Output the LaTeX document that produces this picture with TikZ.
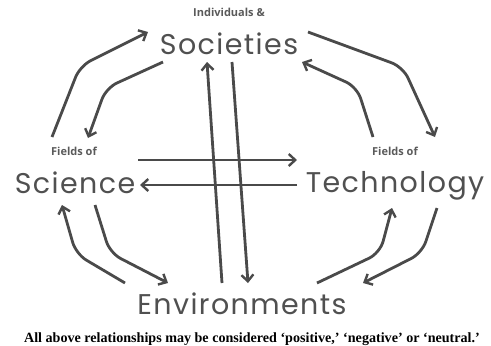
\documentclass[tikz,border=0pt]{standalone}
\usepackage{fontspec}
\setmainfont{Liberation Serif}
\newfontfamily\handfont[LetterSpace=5]{Poppins}
\newfontfamily\labelfont{Open Sans}
\usetikzlibrary{arrows.meta}
\definecolor{linegray}{HTML}{4A4A4A}
\definecolor{textgray}{HTML}{505050}
\definecolor{labelgray}{HTML}{5A5A5A}
\begin{document}
\begin{tikzpicture}[x=1pt,y=-1pt,
  flowarrow/.style={draw=linegray, line width=2.8pt, rounded corners=12pt,
    -{Straight Barb[length=6.5pt,width=12pt,line width=2.4pt]}},
  bigword/.style={anchor=base, text=textgray, inner sep=0pt, font=\handfont\fontsize{28.5}{30}\selectfont},
  fieldlabel/.style={anchor=base, text=labelgray, inner sep=0pt, font=\labelfont\bfseries\fontsize{11}{13}\selectfont},
  captiontext/.style={anchor=base, text=black, inner sep=0pt, font=\bfseries\fontsize{14.1}{16}\selectfont}
]
\useasboundingbox (0,0) rectangle (491,346);

% labels
\node[fieldlabel] (ind) at (229,16) {Individuals \&};
\node[bigword] (soc) at (229,54) {Societies};
\node[fieldlabel] (fsci) at (74,155) {Fields of};
\node[bigword] (sci) at (75,193) {Science};
\node[fieldlabel] (ftec) at (395,155) {Fields of};
\node[bigword] (tec) at (395,192) {Technology};
\node[bigword] (env) at (242,314) {Environments};
\node[captiontext] (cap) at (252,342) {All above relationships may be considered ‘positive,’ ‘negative’ or ‘neutral.’};

% connector end points
\coordinate (a1) at (52,137);  \coordinate (b1) at (148,32);
\coordinate (a2) at (163,62);  \coordinate (b2) at (88,138);
\coordinate (a3) at (308,32);  \coordinate (b3) at (435,137);
\coordinate (a4) at (373,137); \coordinate (b4) at (302,62);
\coordinate (a5) at (222,283); \coordinate (b5) at (207,62);
\coordinate (a6) at (232,62);  \coordinate (b6) at (248,283);
\coordinate (a7) at (138,160); \coordinate (b7) at (297,160);
\coordinate (a8) at (297,185); \coordinate (b8) at (140,185);
\coordinate (a9) at (125,283); \coordinate (b9) at (62,205);
\coordinate (a10) at (95,205); \coordinate (b10) at (168,283);
\coordinate (a11) at (317,283); \coordinate (b11) at (392,208);
\coordinate (a12) at (437,208); \coordinate (b12) at (363,283);

% Science / Technology <-> Societies
\draw[flowarrow] (a1) -- (80,66) -- (b1);
\draw[flowarrow] (a2) -- (106,88) -- (b2);
\draw[flowarrow] (a3) -- (403,67) -- (b3);
\draw[flowarrow] (a4) -- (357,87) -- (b4);
% Societies <-> Environments
\draw[flowarrow] (a5) -- (b5);
\draw[flowarrow] (a6) -- (b6);
% Science <-> Technology
\draw[flowarrow] (a7) -- (b7);
\draw[flowarrow] (a8) -- (b8);
% Science / Technology <-> Environments
\draw[flowarrow] (a9) -- (76,254) -- (b9);
\draw[flowarrow] (a10) -- (110,253) -- (b10);
\draw[flowarrow] (a11) -- (380,253) -- (b11);
\draw[flowarrow] (a12) -- (422,253) -- (b12);
\end{tikzpicture}
\end{document}
